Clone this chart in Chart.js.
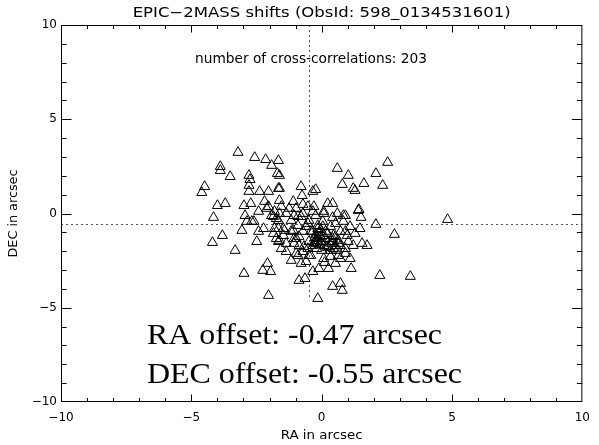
<!DOCTYPE html>
<html>
<head>
<meta charset="utf-8">
<script src="https://cdn.jsdelivr.net/npm/chart.js@4.4.0/dist/chart.umd.min.js"></script>
<style>
  html, body { margin: 0; padding: 0; background: #fff; }
  #wrap { width: 599px; height: 445px; }
</style>
</head>
<body>
<div id="wrap"><canvas id="shiftChart" width="599" height="445"></canvas></div>
<script>
/* --- Data --- */
const raOffsets = [
  -3.21,-2.57,-2.15,-1.92,-1.70,-3.89,-3.89,-3.51,-4.49,-4.60,
  -2.79,-2.75,-2.79,-2.79,-2.38,-2.04,-1.66,-4.00,-3.70,-4.15,
  -2.98,-2.72,-2.94,-2.60,-2.11,-1.92,-1.74,-4.19,-3.81,-3.32,
  -2.98,-2.26,-2.08,-1.96,-2.04,-2.87,-2.42,-2.23,-1.85,-1.74,
  -1.66,-1.81,-1.66,-1.62,-1.62,-1.62,-0.79,-0.75,-0.23,-0.34,
  0.60,1.02,0.79,1.21,0.23,0.42,-1.09,-0.98,-0.72,-0.53,
  -0.30,0.08,0.60,0.91,1.40,-1.55,-1.62,-1.25,-0.79,-0.23,
  0.42,-1.66,-1.43,-1.47,-1.17,-1.62,-1.36,-1.17,-0.98,-0.72,
  -0.49,-0.53,-0.34,-0.87,-1.06,-0.72,-0.34,-0.11,0.11,-0.87,
  -0.64,-0.15,0.42,0.72,0.79,0.72,1.09,1.13,0.91,1.02,
  0.64,0.42,0.26,0.53,0.91,1.28,1.55,-0.15,0.04,0.53,
  0.83,0.15,-0.04,-0.23,-0.34,2.53,2.08,1.62,2.34,1.28,
  1.43,1.51,2.08,2.79,1.74,2.23,3.40,4.83,
  -1.06,-0.72,-0.34,0.08,0.83,-0.91,-0.60,-0.42,-0.15,0.04,
  0.23,0.45,0.72,0.98,-0.87,-0.49,-0.23,-0.04,0.26,0.42,
  0.64,-1.06,-0.68,0.72,-0.91,-0.42,0.08,0.64,0.91,-0.60,
  -0.23,-0.15,-0.08,-0.19,0.00,-0.11,-0.26,-0.04,0.15,0.08,
  -0.30,0.04,0.19,0.34,0.45,0.53,0.60,0.38,
  -2.19,-2.04,-1.81,-1.85,-1.66,-0.91,-2.68,-1.47,-1.09,-0.98,
  -1.36,-1.17,-0.49,0.34,1.09,1.21,1.47,0.53,0.26,-1.36,
  -1.55,-0.79,-2.49,-3.06,-2.42,-0.53,0.34
];
const decOffsets = [
  3.24,2.97,2.86,2.55,2.12,2.49,2.28,1.96,1.43,1.11,
  2.02,1.80,1.49,1.17,1.17,1.17,1.33,0.42,0.53,-0.21,
  0.42,0.53,-0.11,-0.42,0.27,-0.11,-0.27,-1.54,-1.17,-1.96,
  -3.18,-3.02,-2.65,-3.08,-4.35,-0.42,-0.95,-0.80,-1.06,-1.33,
  -1.49,-0.80,2.81,2.02,1.33,0.69,1.43,0.95,1.27,1.17,
  2.39,2.02,1.54,1.33,0.53,0.53,0.64,0.27,0.48,0.37,
  0.37,0.00,0.00,-0.11,0.16,0.37,0.00,0.27,-0.16,-0.11,
  -0.21,-0.80,-0.90,-1.17,-0.95,-1.43,-2.02,-2.49,-2.12,-2.02,
  -2.23,-1.86,-1.70,-1.70,-1.33,-0.95,-3.08,-2.92,-2.60,-3.55,
  -3.45,-4.51,-3.87,-3.71,-4.08,-2.39,-2.39,-2.92,-1.86,-1.49,
  -1.59,-1.49,-1.75,-1.22,-0.95,-1.06,-1.59,-0.64,-0.42,-0.53,
  -0.42,-0.95,-1.22,-1.43,-0.95,2.71,2.12,1.59,1.49,1.22,
  0.21,-0.21,-0.58,-1.11,-1.70,-3.29,-3.34,-0.32,
  -0.11,0.00,0.11,0.11,-0.11,-0.64,-0.69,-0.95,-0.80,-0.69,
  -1.06,-1.17,-0.95,-1.17,-1.22,-1.49,-1.59,-1.49,-1.49,-1.33,
  -1.43,-1.59,-1.75,-1.70,-2.23,-2.23,-2.39,-2.23,-2.12,-2.55,
  -1.11,-1.33,-1.64,-1.86,-1.96,-1.01,-1.27,-0.85,-1.33,-1.70,
  -1.54,-1.17,-1.80,-1.96,-1.86,-1.70,-1.96,-1.59,
  0.64,0.37,0.11,-0.16,-0.37,-0.16,-0.42,-0.80,-0.90,-1.33,
  0.00,-0.37,-0.37,-0.69,-0.69,-1.70,-0.80,-2.65,-2.92,-1.59,
  -1.86,-2.65,-1.49,-0.90,0.11,-0.53,-2.28
];
const xTicks = [-10, -5, 0, 5, 10];
const yTicks = [-10, -5, 0, 5, 10];

const RA_OFFSET = -0.47;
const DEC_OFFSET = -0.55;
const RA_LINE_BOTTOM = -4.6;   // the vertical dotted line stops here
const N_CROSS = 203;

const TITLE = 'EPIC\u22122MASS shifts (ObsId: 598_0134531601)';
const X_TITLE = 'RA in arcsec';
const Y_TITLE = 'DEC in arcsec';

/* --- Helpers --- */
const minus = v => String(v).replace('-', '\u2212');

// text squeezed/stretched to a given width (the IDL font is wide)
function fitText(ctx, txt, x, y, w, font, align, sy){
  ctx.save();
  ctx.font = font;
  const m = ctx.measureText(txt).width;
  ctx.translate(x, y);
  ctx.scale(w / m, sy || 1);
  ctx.textAlign = align || 'center';
  ctx.fillText(txt, 0, 0);
  ctx.restore();
}

/* --- Box, inward ticks, dotted offset lines, labels --- */
const idlFramePlugin = {
  id: 'idlFrame',
  beforeDatasetsDraw(chart){
    const { ctx, chartArea: { left, right }, scales: { x, y } } = chart;
    const xr = Math.round(x.getPixelForValue(RA_OFFSET)) + 0.5;
    const yd = Math.round(y.getPixelForValue(DEC_OFFSET)) + 0.5;
    ctx.save();
    ctx.strokeStyle = '#555';
    ctx.lineWidth = 1;
    ctx.setLineDash([2, 3]);
    ctx.beginPath();
    ctx.moveTo(xr, y.getPixelForValue(10));
    ctx.lineTo(xr, y.getPixelForValue(RA_LINE_BOTTOM));
    ctx.moveTo(left, yd);
    ctx.lineTo(right, yd);
    ctx.stroke();
    ctx.restore();
  },
  afterDraw(chart){
    const { ctx, chartArea: { left, right, top, bottom }, scales: { x, y } } = chart;
    ctx.save();
    ctx.strokeStyle = '#000';
    ctx.lineWidth = 1;
    ctx.strokeRect(left + 0.5, top + 0.5, right - left - 1, bottom - top - 1);

    ctx.beginPath();
    for (let v = -9; v <= 9; v++){
      const major = v % 5 === 0;
      const px = Math.round(x.getPixelForValue(v)) + 0.5;
      const lx = major ? 7.5 : 4;
      ctx.moveTo(px, bottom); ctx.lineTo(px, bottom - lx);
      ctx.moveTo(px, top); ctx.lineTo(px, top + lx);
      const py = Math.round(y.getPixelForValue(v)) + 0.5;
      const ly = major ? 10.5 : 5.5;
      ctx.moveTo(left, py); ctx.lineTo(left + ly, py);
      ctx.moveTo(right, py); ctx.lineTo(right - ly, py);
    }
    ctx.stroke();

    ctx.fillStyle = '#000';
    ctx.textBaseline = 'middle';
    fitText(ctx, TITLE, (left + right) / 2, 13, 378, '14px "DejaVu Sans"');
    fitText(ctx, 'number of cross-correlations: ' + N_CROSS, 311, 59, 232, '14px "DejaVu Sans"');
    fitText(ctx, X_TITLE, (left + right) / 2, 436, 82, '12px "DejaVu Sans"');

    ctx.save();
    ctx.translate(14, (top + bottom) / 2);
    ctx.rotate(-Math.PI / 2);
    fitText(ctx, Y_TITLE, 0, 0, 88, '12px "DejaVu Sans"');
    ctx.restore();

    ctx.textBaseline = 'alphabetic';
    fitText(ctx, 'RA offset: ' + RA_OFFSET.toFixed(2) + ' arcsec', 147, 344, 295,
            '32px "Liberation Serif"', 'left', 0.92);
    fitText(ctx, 'DEC offset: ' + DEC_OFFSET.toFixed(2) + ' arcsec', 147, 383, 315,
            '32px "Liberation Serif"', 'left', 0.92);
    ctx.restore();
  }
};

/* --- Chart --- */
const tickFont = { family: 'DejaVu Sans', size: 12 };

const chart = new Chart(document.getElementById('shiftChart'), {
  type: 'scatter',
  data: {
    datasets: [{
      data: raOffsets.map((ra, i) => ({ x: ra, y: decOffsets[i] })),
      pointStyle: 'triangle',
      pointRadius: 5.8,
      pointBorderWidth: 1,
      pointBorderColor: '#000',
      pointBackgroundColor: 'rgba(0,0,0,0)'
    }]
  },
  options: {
    responsive: false,
    animation: false,
    devicePixelRatio: 1,
    layout: { padding: { top: 25, right: 8, bottom: 0, left: 0 } },
    plugins: { legend: { display: false }, tooltip: { enabled: false } },
    scales: {
      x: {
        type: 'linear', min: -10, max: 10,
        afterBuildTicks: s => { s.ticks = xTicks.map(v => ({ value: v })); },
        afterFit: s => { s.height = 43; },
        ticks: { color: '#000', font: tickFont, padding: 9, maxRotation: 0, callback: v => minus(v) },
        grid: { display: false, drawTicks: false },
        border: { display: false }
      },
      y: {
        type: 'linear', min: -10, max: 10,
        afterBuildTicks: s => { s.ticks = yTicks.map(v => ({ value: v })); },
        afterFit: s => { s.width = 61; },
        ticks: { color: '#000', font: tickFont, padding: 4, callback: v => minus(v) },
        grid: { display: false, drawTicks: false },
        border: { display: false }
      }
    }
  },
  plugins: [idlFramePlugin]
});
</script>
</body>
</html>
